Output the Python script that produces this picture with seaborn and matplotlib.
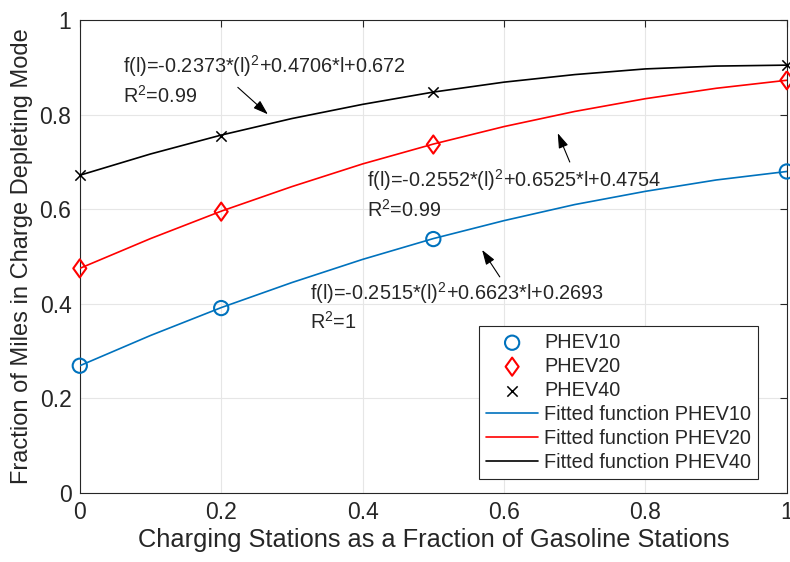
import numpy as np
import pandas as pd
import matplotlib
matplotlib.use("Agg")
import matplotlib.pyplot as plt
from matplotlib.path import Path
import seaborn as sns

# Measured points
x_pts = [0, 0.2, 0.5, 1.0]
phev10_pts = [0.269, 0.391, 0.537, 0.680]
phev20_pts = [0.475, 0.595, 0.737, 0.873]
phev40_pts = [0.672, 0.756, 0.848, 0.905]

# Fitted curves read at 0.1 spacing
x_fit = [0.0, 0.1, 0.2, 0.3, 0.4, 0.5, 0.6, 0.7, 0.8, 0.9, 1.0]
fit10 = [0.269, 0.333, 0.392, 0.445, 0.494, 0.538, 0.576, 0.610, 0.638, 0.662, 0.680]
fit20 = [0.475, 0.538, 0.596, 0.648, 0.696, 0.738, 0.775, 0.807, 0.834, 0.856, 0.873]
fit40 = [0.672, 0.717, 0.757, 0.792, 0.822, 0.848, 0.869, 0.885, 0.897, 0.903, 0.905]

series_names = ["PHEV10", "PHEV20", "PHEV40"]
fit_names = ["Fitted function PHEV10", "Fitted function PHEV20", "Fitted function PHEV40"]
colors = ["#0072BD", "#FF0000", "#000000"]

diamond = Path([(0, 1), (0.72, 0), (0, -1), (-0.72, 0), (0, 1)],
               [Path.MOVETO, Path.LINETO, Path.LINETO, Path.LINETO, Path.CLOSEPOLY])
markers = ["o", diamond, "x"]
msizes = [105, 170, 55]

sns.set_style("white")
plt.rcParams['font.family'] = ['Liberation Sans', 'DejaVu Sans']
plt.rcParams['mathtext.fontset'] = 'custom'
plt.rcParams['mathtext.rm'] = 'Liberation Sans'

pts_df = pd.DataFrame({
    "x": x_pts * 3,
    "y": phev10_pts + phev20_pts + phev40_pts,
    "s": sum([[n] * len(x_pts) for n in series_names], []),
})
fit_df = pd.DataFrame({
    "x": x_fit * 3,
    "y": fit10 + fit20 + fit40,
    "s": sum([[n] * len(x_fit) for n in fit_names], []),
})

fig = plt.figure(figsize=(7.9, 5.62), dpi=100)
ax = fig.add_axes([0.101, 0.123, 0.895, 0.841])

for name, c, m, sz in zip(series_names, colors, markers, msizes):
    sub = pts_df[pts_df.s == name]
    if isinstance(m, str) and m == "x":
        sns.scatterplot(data=sub, x="x", y="y", marker="x", color=c, s=sz,
                        linewidth=1.1, ax=ax, label=name, zorder=4, clip_on=False)
    else:
        sns.scatterplot(data=sub, x="x", y="y", marker=m, facecolor="none",
                        edgecolor=c, s=sz, linewidth=1.5,
                        ax=ax, label=name, zorder=4, clip_on=False)

for name, c in zip(fit_names, colors):
    sub = fit_df[fit_df.s == name]
    sns.lineplot(data=sub, x="x", y="y", color=c, linewidth=1.2, ax=ax,
                 label=name, zorder=3)

ax.set_xlim(0, 1)
ax.set_ylim(0, 1)
ax.set_xticks([0, 0.2, 0.4, 0.6, 0.8, 1])
ax.set_xticklabels(["0", "0.2", "0.4", "0.6", "0.8", "1"])
ax.set_yticks([0, 0.2, 0.4, 0.6, 0.8, 1])
ax.set_yticklabels(["0", "0.2", "0.4", "0.6", "0.8", "1"])
ax.grid(True, color="#e6e6e6", linewidth=0.8)
ax.set_axisbelow(True)
ax.tick_params(direction="in", length=5, width=0.8, color="#262626",
               labelsize=16.5, labelcolor="#262626", top=True, right=True,
               pad=6)
for sp in ax.spines.values():
    sp.set_visible(True)
    sp.set_color("#262626")
    sp.set_linewidth(0.8)

ax.set_xlabel("Charging Stations as a Fraction of Gasoline Stations",
              fontsize=18.3, color="#262626", labelpad=3)
ax.set_ylabel("Fraction of Miles in Charge Depleting Mode",
              fontsize=17, color="#262626", labelpad=5)

# Annotations
ann_fs = 14.3
arrow_kw = dict(arrowstyle="-|>,head_length=0.9,head_width=0.3", color="black",
                lw=0.8, mutation_scale=10, shrinkA=0, shrinkB=0)
ax.text(0.061, 0.903, r"f(l)=-0.2373*(l)$^2$+0.4706*l+0.672", fontsize=ann_fs, va="center")
ax.text(0.061, 0.841, r"R$^2$=0.99", fontsize=ann_fs, va="center")
ax.annotate("", xy=(0.266, 0.801), xytext=(0.2235, 0.858), arrowprops=arrow_kw)

ax.text(0.406, 0.662, r"f(l)=-0.2552*(l)$^2$+0.6525*l+0.4754", fontsize=ann_fs, va="center")
ax.text(0.406, 0.598, r"R$^2$=0.99", fontsize=ann_fs, va="center")
ax.annotate("", xy=(0.676, 0.761), xytext=(0.693, 0.700), arrowprops=arrow_kw)

ax.text(0.325, 0.423, r"f(l)=-0.2515*(l)$^2$+0.6623*l+0.2693", fontsize=ann_fs, va="center")
ax.text(0.325, 0.362, r"R$^2$=1", fontsize=ann_fs, va="center")
ax.annotate("", xy=(0.569, 0.514), xytext=(0.594, 0.457), arrowprops=arrow_kw)

leg = ax.legend(loc="lower right", bbox_to_anchor=(0.959, 0.030), fontsize=14.3,
                frameon=True, fancybox=False, edgecolor="#262626",
                framealpha=1, borderpad=0.35, labelspacing=0.25,
                handlelength=2.6, handletextpad=0.3, borderaxespad=0)
leg.get_frame().set_linewidth(0.8)

fig.savefig("out.png", dpi=100)
